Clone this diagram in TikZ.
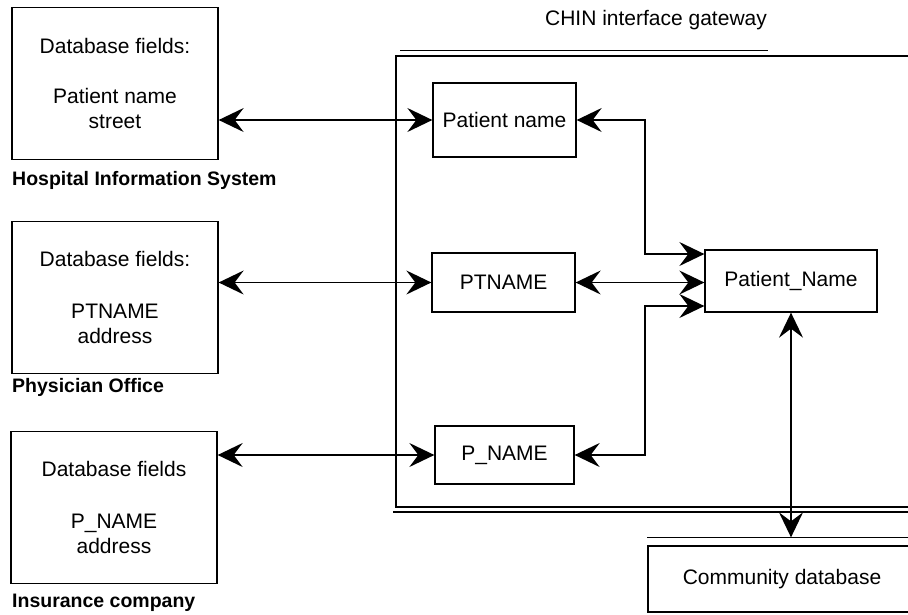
\documentclass[tikz,border=0pt]{standalone}
\usepackage{fontspec}
\setmainfont{Liberation Sans}
\usetikzlibrary{arrows.meta}
\tikzset{myhd/.tip={Stealth[length=25pt,width=24pt,inset=9pt]}}
\begin{document}
\begin{tikzpicture}[x=1pt,y=-1pt,
  box/.style={draw,line width=1.3pt,inner sep=0pt,align=center,font=\fontsize{21}{25}\selectfont},
  src/.style={box,minimum width=206pt,minimum height=152pt},
  fld/.style={box,minimum width=143pt},
  lbl/.style={anchor=west,inner sep=0pt,font=\fontsize{19.5}{23}\selectfont\bfseries},
  conn/.style={line width=1.6pt,myhd-myhd},
  wall/.style={line width=1.3pt}
]
\useasboundingbox (0,0) rectangle (908,614);
\clip (0,0) rectangle (908,614);

% source systems
\node[src] (his) at (115,83.5) {Database fields:\\[25pt]Patient name\\street};
\node[lbl] (hisl) at (12,180) {Hospital Information System};
\node[src] (phy) at (115,297.5) {Database fields:\\[27pt]PTNAME\\address};
\node[lbl] (phyl) at (12,387) {Physician Office};
\node[src] (ins) at (114,507.5) {Database fields\\[27pt]P\_NAME\\address};
\node[lbl] (insl) at (12,603) {Insurance company};

% gateway
\node[font=\fontsize{21}{25}\selectfont,inner sep=0pt] (title) at (656,20) {CHIN interface gateway};
\draw[line width=0.8pt] (400,50) -- (768,50);
\draw[wall] (930,56) -- (396,56) -- (396,507) -- (930,507);
\draw[wall] (393,512) -- (930,512);

\node[fld,minimum height=74pt] (f1) at (504.5,120) {Patient name};
\node[fld,minimum height=59pt] (f2) at (503.5,282.5) {PTNAME};
\node[fld,minimum width=139pt,minimum height=58pt] (f3) at (504.5,455) {P\_NAME};
\node[box,minimum width=172pt,minimum height=62pt] (pn) at (791,281) {Patient\_Name};
\coordinate (bus) at (645,281);

% community database
\node[box,minimum width=268pt,minimum height=66pt] (cdb) at (782,579) {Community database};
\draw[line width=1pt] ([yshift=8pt]cdb.north west) -- ([yshift=8pt]cdb.north east);
\coordinate (cdbtop) at ([yshift=8pt]cdb.north);

% connectors
\draw[conn] (f1.west -| his.east) -- (f1.west);
\draw[conn] (f2.west -| phy.east) -- (f2.west);
\draw[conn] (f3.west -| ins.east) -- (f3.west);
\draw[conn] (f1.east) -| ([yshift=27pt]bus) -- ([yshift=27pt]pn.west);
\draw[conn] (f2.east) -- (f2.east -| pn.west);
\draw[conn] (f3.east) -| ([yshift=-25pt]bus) -- ([yshift=-25pt]pn.west);
\draw[conn] (pn.south) -- (pn.south |- cdbtop);
\end{tikzpicture}
\end{document}
